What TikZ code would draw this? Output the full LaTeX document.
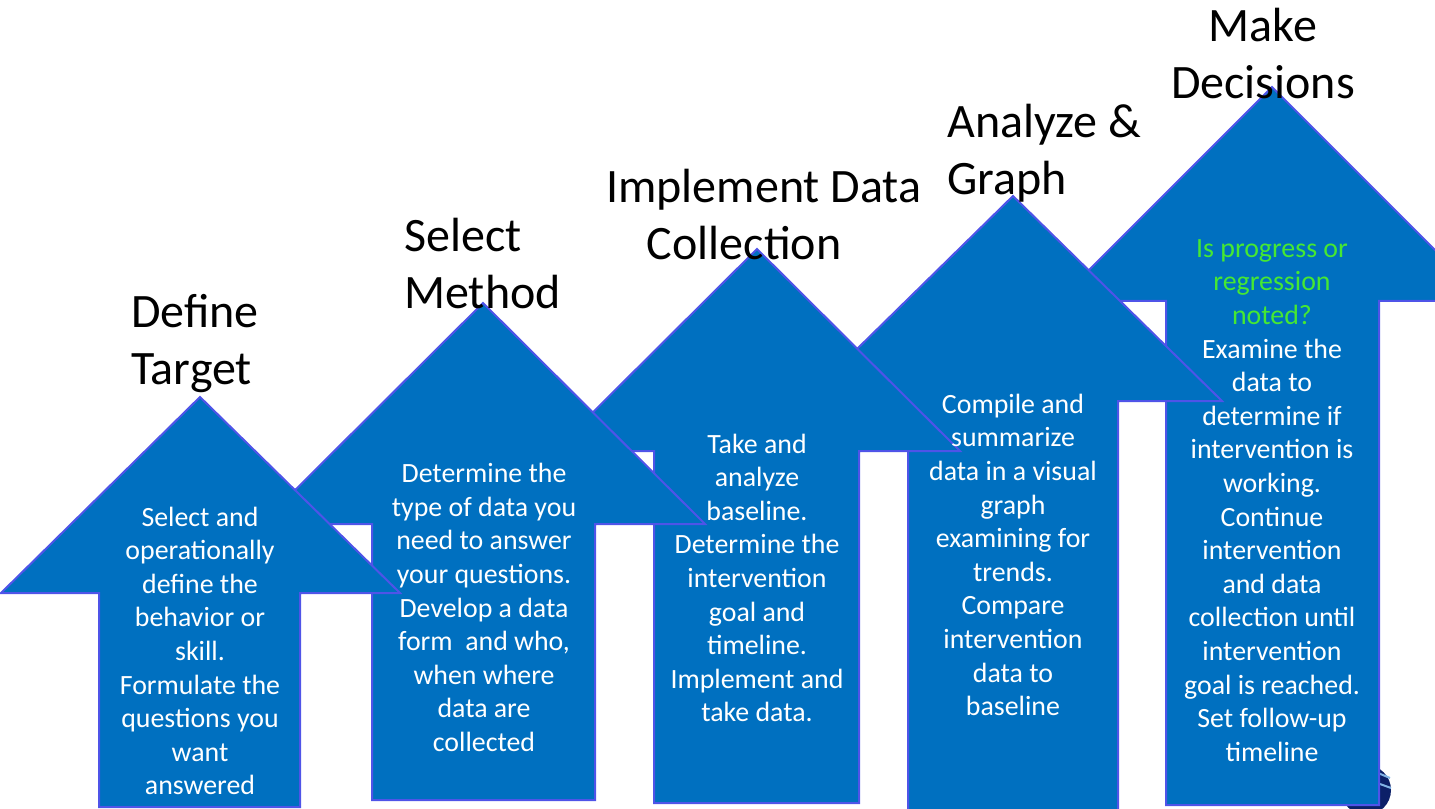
\documentclass[tikz,border=0pt]{standalone}
\usepackage{fontspec}
\setmainfont{Carlito}
\definecolor{arrowfill}{RGB}{0,112,192}
\definecolor{arrowline}{RGB}{79,84,232}
\definecolor{notegreen}{RGB}{70,232,50}
\definecolor{logonavy}{RGB}{12,32,104}
\definecolor{logolight}{RGB}{130,180,230}
\begin{document}
\begin{tikzpicture}[x=0.75pt,y=-0.75pt,
  arrowshape/.style={fill=arrowfill,draw=arrowline,line width=1.5pt,line join=miter},
  titletext/.style={font=\fontsize{36}{42.75}\selectfont,text=black,inner sep=0pt},
  bodytext/.style={font=\fontsize{20.9}{25.2}\selectfont,text=white,inner sep=0pt,align=center}]
\useasboundingbox (0,0) rectangle (1435,809);
\clip (0,0) rectangle (1435,809);
% partial logo behind the last arrow
\fill[logonavy] (1366,790) circle (25);
\draw[logolight,line width=1.5pt] (1378,773) -- (1390,778);
\draw[logolight,line width=1.5pt] (1380,784) -- (1391,788);
% arrows, back to front
\path[arrowshape] (1272,87) -- (1486,301) -- (1379,301) -- (1379,805) -- (1166,805) -- (1166,301) -- (1058,301) -- cycle;
\path[arrowshape] (1013,196) -- (1222,401) -- (1118,401) -- (1118,815) -- (908,815) -- (908,401) -- (804,401) -- cycle;
\path[arrowshape] (757,249) -- (960,451) -- (859,451) -- (859,803) -- (654,803) -- (654,451) -- (554,451) -- cycle;
\path[arrowshape] (483,303) -- (705,524) -- (595,524) -- (595,800) -- (372,800) -- (372,524) -- (261,524) -- cycle;
\path[arrowshape] (200,397) -- (400,593) -- (300,593) -- (300,807) -- (99,807) -- (99,593) -- (1,593) -- cycle;
% titles
\node[titletext,anchor=west,align=left] (t1) at (131,343.5) {Define\\Target};
\node[titletext,anchor=west,align=left] (t2) at (404,263.5) {Select\\Method};
\node[titletext,anchor=west,align=left] (t3) at (606,214.5) {Implement Data\\\hspace*{30.5pt}Collection};
\node[titletext,anchor=west,align=left] (t4) at (947,153.5) {Analyze \&\\Graph};
\node[titletext,align=center] (t5) at (1263,53.5) {Make\\Decisions};
% body texts
\node[bodytext] (b1) at (200,651) {Select and\\operationally\\define the\\behavior or\\skill.\\Formulate the\\questions you\\want\\answered};
\node[bodytext] (b2) at (484,607.5) {Determine the\\type of data you\\need to answer\\your questions.\\Develop a data\\form \ and who,\\when where\\data are\\collected};
\node[bodytext] (b3) at (757,578) {Take and\\analyze\\baseline.\\Determine the\\intervention\\goal and\\timeline.\\Implement and\\take data.};
\node[bodytext] (b4) at (1013,555) {Compile and\\summarize\\data in a visual\\graph\\examining for\\trends.\\Compare\\intervention\\data to\\baseline};
\node[bodytext] (b5) at (1272,500.5) {\textcolor{notegreen}{Is progress or}\\\textcolor{notegreen}{regression}\\\textcolor{notegreen}{noted?}\\Examine the\\data to\\determine if\\intervention is\\working.\\Continue\\intervention\\and data\\collection until\\intervention\\goal is reached.\\Set follow-up\\timeline};
\end{tikzpicture}
\end{document}
